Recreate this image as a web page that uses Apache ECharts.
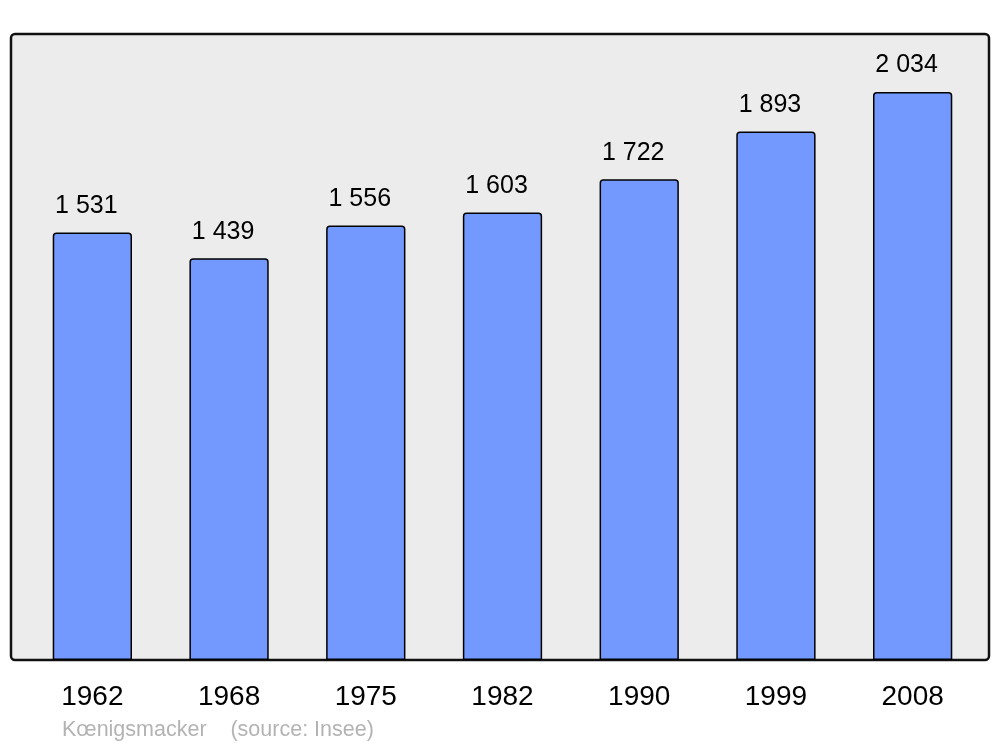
<!DOCTYPE html>
<html>
<head>
<meta charset="utf-8">
<script src="https://cdn.jsdelivr.net/npm/echarts@6/dist/echarts.min.js"></script>
<style>
html, body { margin: 0; padding: 0; background: #fff; }
#chart { width: 1000px; height: 747px; }
</style>
</head>
<body>
<div id="chart"></div>
<script>
const years = ['1962', '1968', '1975', '1982', '1990', '1999', '2008'];
const population = [1531, 1439, 1556, 1603, 1722, 1893, 2034];
const footerText = 'Kœnigsmacker    (source: Insee)';

const chart = echarts.init(document.getElementById('chart'));

// thousands with a space, like "1 531"
function fmt(v) {
    return String(v).replace(/\B(?=(\d{3})+(?!\d))/g, ' ');
}

const option = {
    backgroundColor: '#fff',
    animation: false,
    textStyle: { fontFamily: '"Liberation Sans", Arial, sans-serif' },
    graphic: [
        {
            type: 'rect',
            z: -10,
            shape: { x: 11, y: 34, width: 978, height: 626, r: 4 },
            style: { fill: '#ececec', stroke: '#111', lineWidth: 2.5 }
        },
        {
            type: 'text',
            left: 62,
            top: 719,
            style: {
                text: footerText,
                fill: '#b3b3b3',
                font: '21.5px "Liberation Sans", Arial, sans-serif'
            }
        }
    ],
    grid: {
        left: 24,
        right: 19,
        top: 34,
        bottom: 87
    },
    xAxis: {
        type: 'category',
        data: years,
        axisLine: { show: false },
        axisTick: { show: false },
        axisLabel: {
            color: '#000',
            fontSize: 28,
            margin: 23,
            fontFamily: '"Liberation Sans", Arial, sans-serif'
        }
    },
    yAxis: {
        type: 'value',
        min: 0,
        max: 2242,
        show: false,
        splitLine: { show: false }
    },
    series: [{
        type: 'bar',
        data: population,
        barCategoryGap: '42%',
        itemStyle: {
            color: '#7399ff',
            borderColor: '#000',
            borderWidth: 1.5,
            borderRadius: [3, 3, 0, 0]
        },
        label: {
            show: true,
            position: 'top',
            distance: 14,
            offset: [-6, 0],
            color: '#000',
            fontSize: 25,
            fontFamily: '"Liberation Sans", Arial, sans-serif',
            formatter: p => fmt(p.value)
        }
    }]
};

chart.setOption(option);
</script>
</body>
</html>
